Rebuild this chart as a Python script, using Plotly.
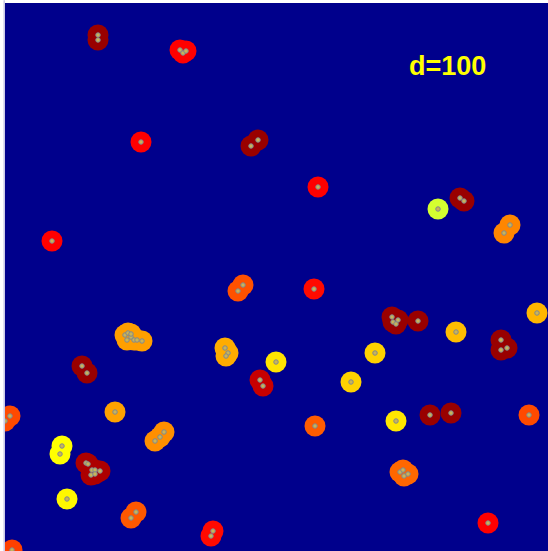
import plotly.graph_objects as go

# Clusters: point x positions, point y positions (y grows downward), intensity value
cl_x = [
    [98, 98],
    [180, 183, 186],
    [141],
    [251, 258],
    [318],
    [438],
    [460, 464],
    [504, 510],
    [52],
    [238, 243],
    [314],
    [125, 128, 131, 134, 137, 142, 127, 131],
    [225, 228, 226],
    [392, 393, 398, 396],
    [418],
    [456],
    [537],
    [501, 501, 507],
    [82, 87],
    [276],
    [375],
    [260, 263],
    [351],
    [115],
    [5, 10],
    [155, 160, 164],
    [396],
    [430],
    [451],
    [529],
    [315],
    [62, 60],
    [86, 88, 92, 95, 100, 91, 95],
    [400, 404, 408, 403],
    [67],
    [131, 136],
    [211, 213],
    [488],
    [12],
]
cl_y = [
    [35, 40],
    [50, 53, 51],
    [142],
    [146, 140],
    [187],
    [209],
    [198, 201],
    [233, 225],
    [241],
    [291, 285],
    [289],
    [335, 333, 337, 340, 340, 341, 340, 334],
    [348, 353, 356],
    [317, 322, 320, 324],
    [321],
    [332],
    [313],
    [340, 350, 348],
    [366, 373],
    [362],
    [353],
    [380, 386],
    [382],
    [412],
    [421, 416],
    [441, 437, 432],
    [421],
    [415],
    [413],
    [415],
    [426],
    [446, 454],
    [463, 464, 470, 470, 471, 475, 474],
    [472, 476, 474, 470],
    [499],
    [518, 512],
    [536, 531],
    [523],
    [550],
]
# 0 = dark red ... 1 = yellow-green
cl_val = [0.0, 0.25, 0.25, 0.0, 0.25, 1.0, 0.0, 0.57, 0.25, 0.42, 0.27,
          0.65, 0.69, 0.0, 0.0, 0.74, 0.72, 0.0, 0.0, 0.85, 0.80, 0.12,
          0.80, 0.66, 0.40, 0.60, 0.86, 0.0, 0.0, 0.40, 0.45, 0.92, 0.05,
          0.48, 0.90, 0.44, 0.27, 0.25, 0.38]

label_text = "d=100"

pt_x, pt_y, pt_val = [], [], []
for xs, ys, v in zip(cl_x, cl_y, cl_val):
    pt_x += xs
    pt_y += ys
    pt_val += [v] * len(xs)

colorscale = [
    [0.0, "#990000"],
    [0.12, "#C80000"],
    [0.25, "#FF0000"],
    [0.40, "#FF4A00"],
    [0.55, "#FF8000"],
    [0.66, "#FFA200"],
    [0.76, "#FFC400"],
    [0.88, "#FFEE00"],
    [0.92, "#FFFF00"],
    [1.0, "#D4FF30"],
]

fig = go.Figure()
fig.add_trace(go.Scatter(
    x=pt_x, y=pt_y, mode="markers",
    marker=dict(size=21, color=pt_val, colorscale=colorscale, cmin=0, cmax=1,
                line=dict(width=0), opacity=1),
    hoverinfo="skip", showlegend=False))
fig.add_trace(go.Scatter(
    x=pt_x, y=pt_y, mode="markers",
    marker=dict(size=4.5, color="#C8B45A", line=dict(width=1, color="#808890")),
    hoverinfo="skip", showlegend=False))

fig.add_annotation(x=447, y=66, text="<b>" + label_text + "</b>", showarrow=False,
                   font=dict(family="Liberation Sans, Arial", size=27, color="#FFFF00"),
                   xanchor="center", yanchor="middle")

fig.add_shape(type="line", xref="paper", yref="paper", x0=-0.0015, x1=-0.0015, y0=0, y1=1.005,
              line=dict(color="#C8C8E6", width=1.5))

fig.update_xaxes(range=[5, 548], visible=False, showgrid=False, zeroline=False)
fig.update_yaxes(range=[551, 3], visible=False, showgrid=False, zeroline=False)
fig.update_layout(width=548, height=551, margin=dict(l=5, r=0, t=3, b=0),
                  plot_bgcolor="#00008C", paper_bgcolor="white", autosize=False)
fig.write_html("out.html", config={"responsive": False, "displayModeBar": False},
               post_script="document.body.style.margin='0';document.body.style.padding='0';document.body.style.overflow='hidden';")
